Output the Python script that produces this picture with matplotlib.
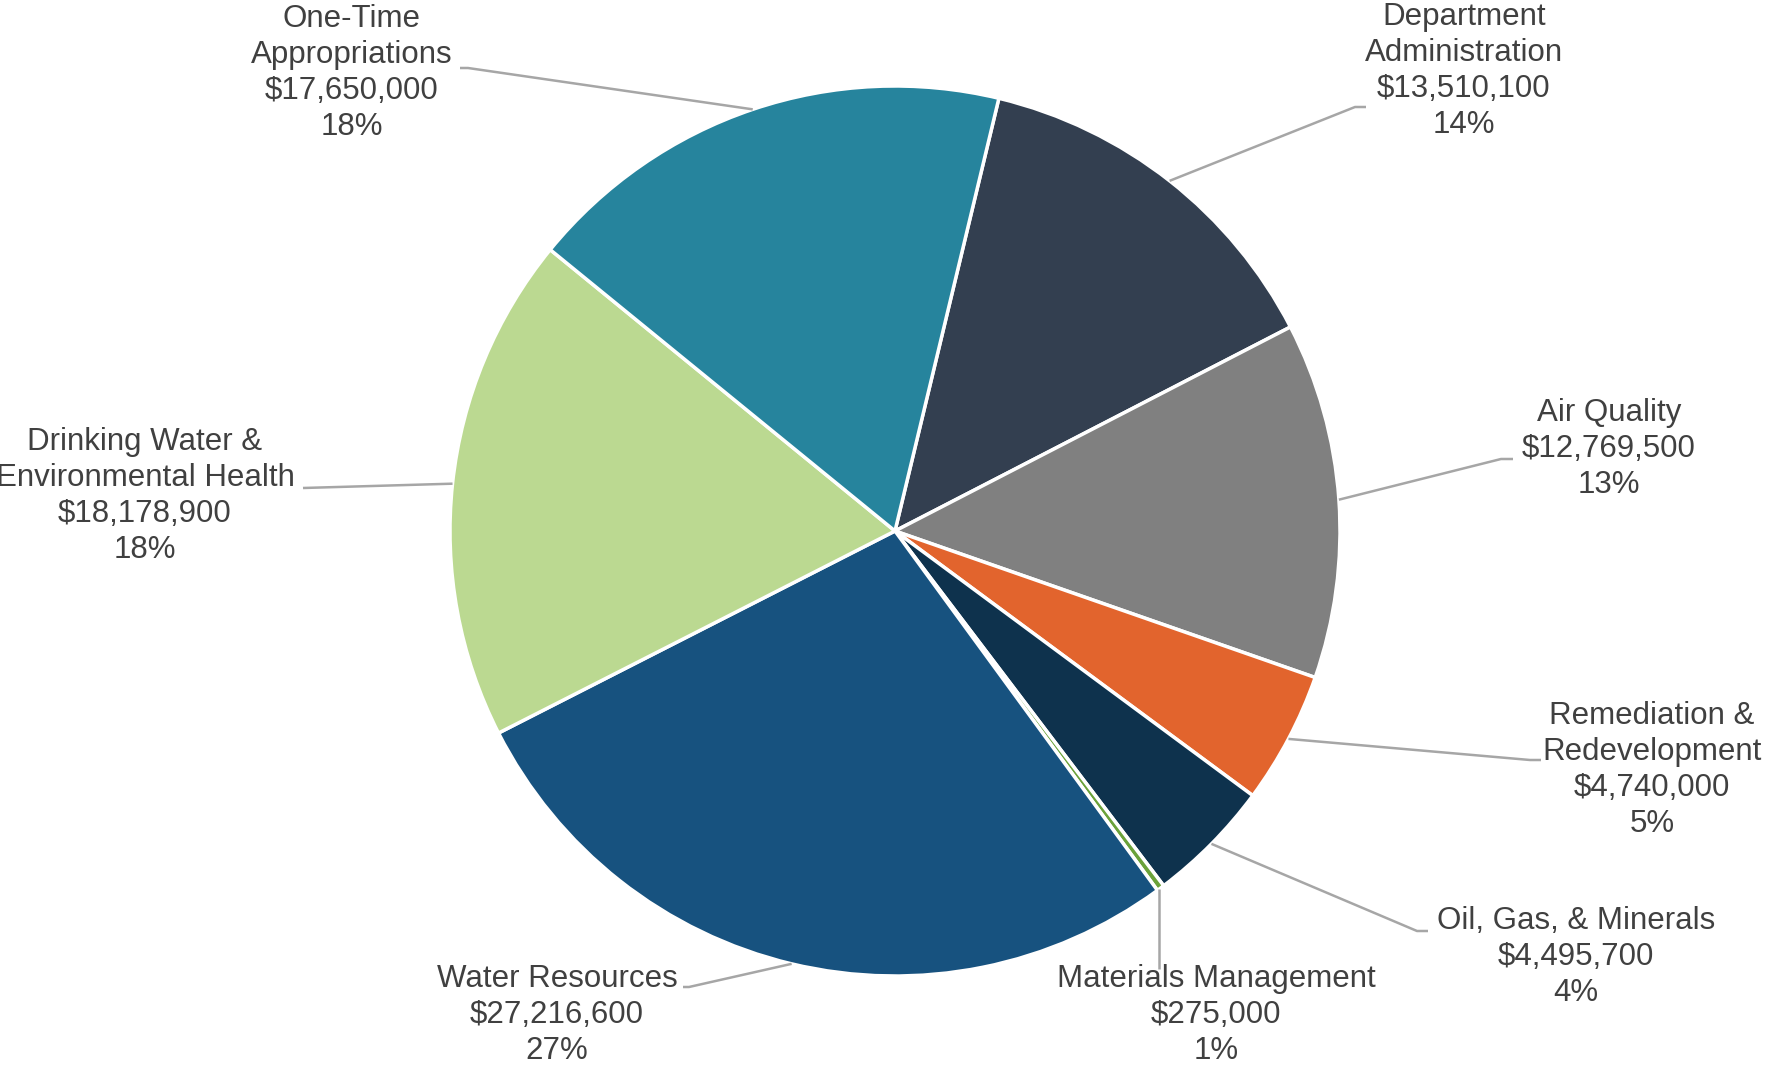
import matplotlib
matplotlib.use("Agg")
import matplotlib.pyplot as plt
import numpy as np

categories = ["Department\nAdministration", "Air Quality", "Remediation &\nRedevelopment",
              "Oil, Gas, & Minerals", "Materials Management", "Water Resources",
              "Drinking Water &\nEnvironmental Health", "One-Time\nAppropriations"]
values = [13510100, 12769500, 4740000, 4495700, 275000, 27216600, 18178900, 17650000]
pct_labels = ["14%", "13%", "5%", "4%", "1%", "27%", "18%", "18%"]
colors = ["#333F50", "#808080", "#E2642D", "#0E324D", "#6BA23A", "#17527F", "#BBD991", "#26849D"]

W, H = 1767, 1065
cx, cy, R = 895, 531, 445

fig = plt.figure(figsize=(W / 100, H / 100), dpi=100)
ax = fig.add_axes([0, 0, 1, 1])
ax.axis("off")

wedges, _ = ax.pie(values, colors=colors, startangle=76.5, counterclock=False,
                   radius=1, center=(0, 0),
                   wedgeprops=dict(edgecolor="white", linewidth=2.5))
ax.set_xlim(-cx / R, (W - cx) / R)
ax.set_ylim(-(H - cy) / R, cy / R)
ax.set_aspect("auto")

def px(x, y):
    return ((x - cx) / R, (cy - y) / R)

# label text centres (pixel layout) and leader-line elbows
text_pos = [px(1464, 71), px(1609, 449), px(1652, 770), px(1576, 957),
            px(1216, 1015), px(557, 1015), px(145, 496), px(352, 73)]
elbows = [(px(1355, 107), px(1366, 107)), (px(1501, 459), px(1513, 459)),
          (px(1530, 760), px(1541, 760)), (px(1417, 931), px(1428, 931)),
          (px(1159, 969), px(1159, 969)), (px(689, 987), px(683, 987)),
          (px(303, 488), px(303, 488)), (px(468, 68), px(460, 68))]

for w, cat, val, pct, tp, (e1, e2) in zip(wedges, categories, values, pct_labels, text_pos, elbows):
    mid = np.deg2rad((w.theta1 + w.theta2) / 2)
    sx, sy = np.cos(mid), np.sin(mid)
    if cat.startswith("Materials"):
        sx = e1[0]
        sy = -np.sqrt(1 - sx ** 2)
    ax.plot([sx, e1[0], e2[0]], [sy, e1[1], e2[1]], color="#A6A6A6", lw=1.8,
            solid_capstyle="butt", zorder=1)
    ax.text(tp[0], tp[1], f"{cat}\n${val:,.0f}\n{pct}", ha="center", va="center",
            multialignment="center", fontsize=22.5, color="#404040",
            family=["Liberation Sans", "DejaVu Sans"], linespacing=1.27)

fig.savefig("out.png", dpi=100, facecolor="white")
